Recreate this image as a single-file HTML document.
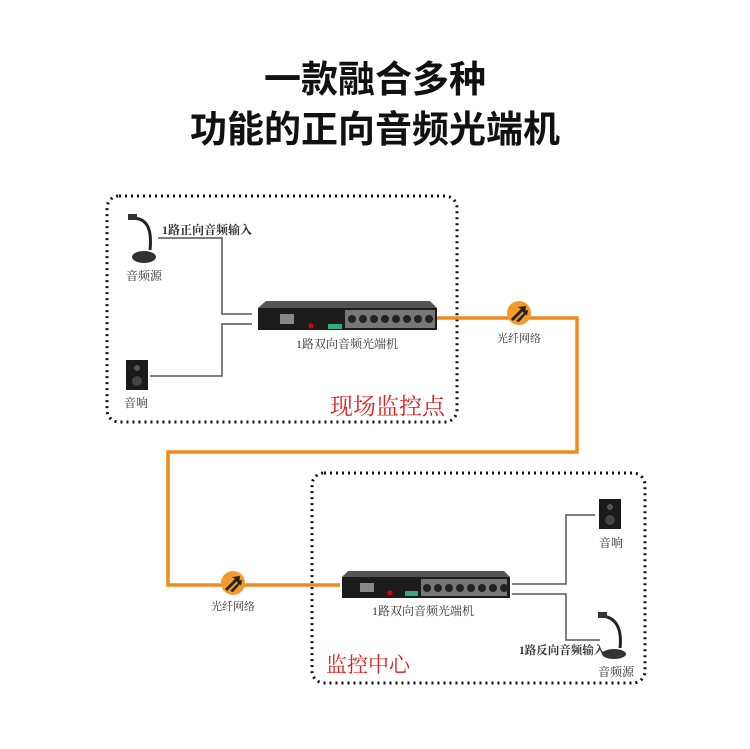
<!DOCTYPE html>
<html><head><meta charset="utf-8"><style>
body{margin:0;background:#fff}
svg{display:block}
text{font-family:"Liberation Serif","Noto Serif CJK SC",serif}
.t{font-family:"Liberation Sans","Noto Sans CJK SC",sans-serif;font-weight:bold}
</style></head><body>
<svg width="750" height="749" viewBox="0 0 750 749">
<text class="t" x="375" y="92" font-size="37" text-anchor="middle" fill="#111">一款融合多种</text>
<text class="t" x="375" y="142" font-size="37" text-anchor="middle" fill="#111">功能的正向音频光端机</text>

<rect x="107" y="196" width="350" height="226" rx="12" fill="none" stroke="#111" stroke-width="3" stroke-dasharray="2 4"/>
<rect x="312" y="473" width="333" height="210" rx="12" fill="none" stroke="#111" stroke-width="3" stroke-dasharray="2 4"/>

<polyline points="437,318 577,318 577,452 168,452 168,585 340,585" fill="none" stroke="#f08a1c" stroke-width="3.5"/>
<g transform="translate(519,313)"><circle r="12" fill="#f39a2a"/><path d="M-8,6 L2,-4 L-1,-6 L7,-7 L6,1 L4,-2 L-6,8Z M-3,8 L5,0 L3,-2 L9,-3 L8,3 L7,1 L0,9Z" fill="#222"/></g>
<text x="519" y="342" font-size="11" text-anchor="middle" fill="#333">光纤网络</text>
<g transform="translate(233,583)"><circle r="12" fill="#f39a2a"/><path d="M-8,6 L2,-4 L-1,-6 L7,-7 L6,1 L4,-2 L-6,8Z M-3,8 L5,0 L3,-2 L9,-3 L8,3 L7,1 L0,9Z" fill="#222"/></g>
<text x="233" y="610" font-size="11" text-anchor="middle" fill="#333">光纤网络</text>

<g fill="none" stroke="#555" stroke-width="1.5">
<polyline points="158,238 222,238 222,314 252,314"/>
<polyline points="150,376 222,376 222,324 252,324"/>
<polyline points="512,584 566,584 566,515 595,515"/>
<polyline points="512,594 566,594 566,640 600,640"/>
</g>
<text x="162" y="234" font-size="12" font-weight="bold" fill="#333">1路正向音频输入</text>

<path d="M132,218 C148,218 152,230 150,250" fill="none" stroke="#222" stroke-width="3"/>
<rect x="128" y="214" width="9" height="6" fill="#333"/>
<ellipse cx="144" cy="257" rx="12" ry="6" fill="#333"/>
<text x="126" y="280" font-size="12" fill="#333">音频源</text>

<rect x="126" y="360" width="22" height="30" fill="#1a1a1a"/>
<circle cx="137" cy="368" r="3" fill="#555"/><circle cx="137" cy="381" r="5" fill="#444"/>
<text x="124" y="407" font-size="12" fill="#333">音响</text>

<path d="M266,301 L430,301 L437,308 L258,308Z" fill="#555"/>
<rect x="258" y="308" width="179" height="22" fill="#1c1c1c"/>
<rect x="280" y="314" width="14" height="10" fill="#888"/>
<circle cx="311" cy="326" r="2.5" fill="#d00"/>
<rect x="328" y="324" width="14" height="5" fill="#3a7"/>
<rect x="345" y="310" width="90" height="18" fill="#777"/>
<g fill="#222"><circle cx="352" cy="319" r="4"/><circle cx="363" cy="319" r="4"/><circle cx="374" cy="319" r="4"/><circle cx="385" cy="319" r="4"/><circle cx="396" cy="319" r="4"/><circle cx="407" cy="319" r="4"/><circle cx="418" cy="319" r="4"/><circle cx="429" cy="319" r="4"/></g>
<text x="347" y="348" font-size="12" text-anchor="middle" fill="#333">1路双向音频光端机</text>
<text x="330" y="414" font-size="23" fill="#e02020">现场监控点</text>

<path d="M348,571 L504,571 L510,577 L342,577Z" fill="#555"/>
<rect x="342" y="577" width="168" height="21" fill="#1c1c1c"/>
<rect x="360" y="583" width="14" height="9" fill="#888"/>
<circle cx="390" cy="593" r="2.5" fill="#d00"/>
<rect x="405" y="591" width="13" height="5" fill="#3a7"/>
<rect x="421" y="579" width="86" height="17" fill="#777"/>
<g fill="#222"><circle cx="427" cy="588" r="4"/><circle cx="438" cy="588" r="4"/><circle cx="449" cy="588" r="4"/><circle cx="460" cy="588" r="4"/><circle cx="471" cy="588" r="4"/><circle cx="482" cy="588" r="4"/><circle cx="493" cy="588" r="4"/><circle cx="504" cy="588" r="4"/></g>
<text x="423" y="615" font-size="12" text-anchor="middle" fill="#333">1路双向音频光端机</text>
<text x="326" y="672" font-size="21" fill="#e02020">监控中心</text>

<rect x="599" y="499" width="22" height="30" fill="#1a1a1a"/>
<circle cx="610" cy="507" r="3" fill="#555"/><circle cx="610" cy="520" r="5" fill="#444"/>
<text x="599" y="547" font-size="12" fill="#333">音响</text>

<path d="M603,616 C617,618 622,630 620,648" fill="none" stroke="#222" stroke-width="3"/>
<rect x="598" y="612" width="9" height="6" fill="#333"/>
<ellipse cx="614" cy="654" rx="12" ry="5" fill="#333"/>
<text x="519" y="654" font-size="11.5" font-weight="bold" fill="#333">1路反向音频输入</text>
<text x="598" y="676" font-size="12" fill="#333">音频源</text>
</svg>
</body></html>
